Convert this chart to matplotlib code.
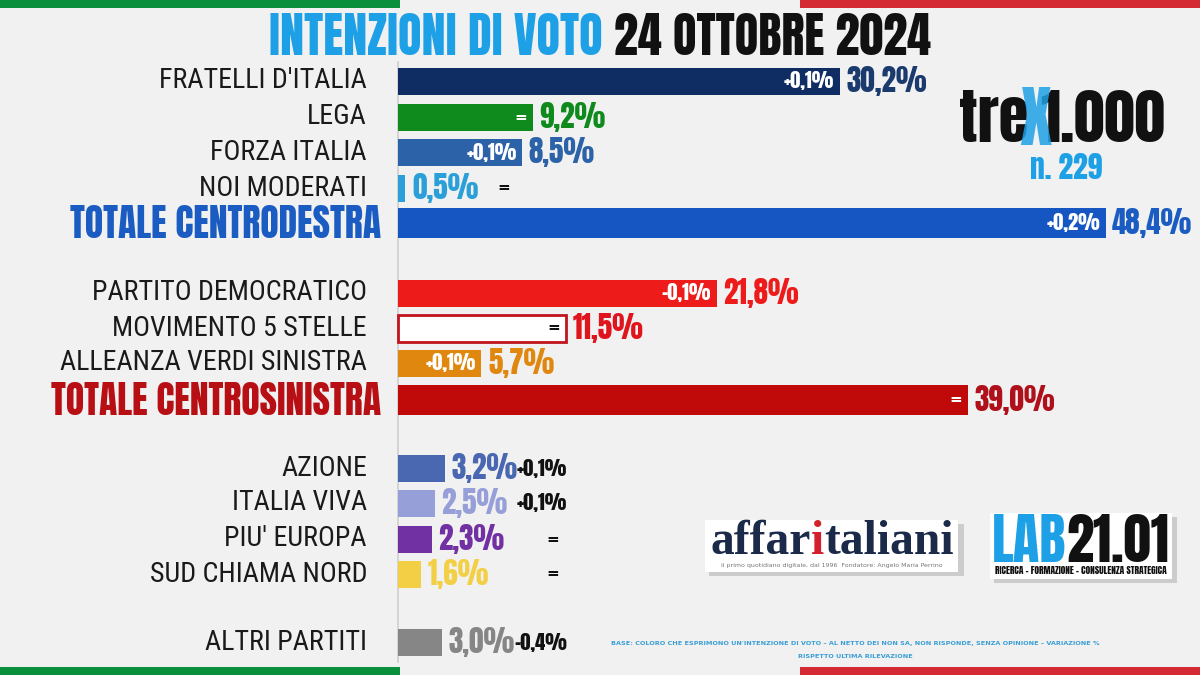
import matplotlib.pyplot as plt
from matplotlib.patches import Rectangle

HEAVY = ['Anton', 'Oswald', 'Bebas Neue', 'Roboto Condensed', 'IBM Plex Sans Condensed', 'DejaVu Sans']
NARROW = ['Roboto Condensed', 'IBM Plex Sans Condensed', 'Liberation Sans Narrow', 'DejaVu Sans']
plt.rcParams['font.family'] = NARROW

# data
parties = ["FRATELLI D'ITALIA", "LEGA", "FORZA ITALIA", "NOI MODERATI", "TOTALE CENTRODESTRA",
           "PARTITO DEMOCRATICO", "MOVIMENTO 5 STELLE", "ALLEANZA VERDI SINISTRA", "TOTALE CENTROSINISTRA",
           "AZIONE", "ITALIA VIVA", "PIU' EUROPA", "SUD CHIAMA NORD", "ALTRI PARTITI"]
values = [30.2, 9.2, 8.5, 0.5, 48.4, 21.8, 11.5, 5.7, 39.0, 3.2, 2.5, 2.3, 1.6, 3.0]
changes = ["+0,1%", "=", "+0,1%", "=", "+0,2%", "-0,1%", "=", "+0,1%", "=",
           "+0,1%", "+0,1%", "=", "=", "-0,4%"]
change_inside = [True, True, True, False, True, True, True, True, True,
                 False, False, False, False, False]
is_total = [False, False, False, False, True, False, False, False, True,
            False, False, False, False, False]

# style
bar_colors = ['#102d63', '#0f8a1c', '#2c62a8', '#2a9fd8', '#1656c2', '#ee1b1b', '#ffffff',
              '#e0870f', '#c00a0a', '#4a67b2', '#979fd8', '#7131a3', '#f3cf45', '#868686']
val_colors = ['#1b3a6e', '#0f8a1c', '#2c62a8', '#2a9fd8', '#1a5cc2', '#ee1b1b', '#e0141c',
              '#e0870f', '#b0101a', '#4a67b2', '#979fd8', '#7131a3', '#f3cf45', '#868686']
label_colors = ['#1a1a1a'] * 4 + ['#1a5cc2'] + ['#1a1a1a'] * 3 + ['#b80f14'] + ['#1a1a1a'] * 5
rows_y = [81, 117, 152, 188, 223, 293, 328, 363, 400, 468, 503, 539, 574, 642]
bg = '#f1f1f1'
light_blue = '#1ea0e6'

S = 14.62  # pixels per percentage point
X0 = 398   # pixel x of the zero line


def px(x):
    return (x - X0) / S


fig = plt.figure(figsize=(12, 6.75), dpi=100)
fig.patch.set_facecolor(bg)
ax = fig.add_axes([0, 0, 1, 1])
ax.set_xlim(px(0), px(1200))
ax.set_ylim(675, 0)
ax.axis('off')
renderer = fig.canvas.get_renderer()


def fit_size(s, width, **kw):
    # font size that makes s about `width` pixels wide
    t = ax.text(0, 0, s, fontsize=10, **kw)
    w = t.get_window_extent(renderer).width
    t.remove()
    return 10 * width / w


def chain_text(x, y, pieces, ha='left', **kw):
    # draw coloured pieces one after the other on a line
    arts = [ax.text(0, y, s, color=c, va='center', ha='left', **kw) for s, c in pieces]
    widths = [a.get_window_extent(renderer).width / S for a in arts]
    start = x - sum(widths) / 2 if ha == 'center' else x
    for a, w in zip(arts, widths):
        a.set_x(start)
        start += w
    return arts


# flag stripes
for yy in (0, 667):
    ax.add_patch(Rectangle((px(0), yy), 400 / S, 8, color='#0a8f3c', lw=0))
    ax.add_patch(Rectangle((px(800), yy), 400 / S, 8, color='#d42a34', lw=0))

# title
fs = fit_size('INTENZIONI DI VOTO 24 OTTOBRE 2024', 656, family=HEAVY)
chain_text(px(600), 37, [('INTENZIONI DI VOTO ', light_blue), ('24 OTTOBRE 2024', '#111111')],
           ha='center', fontsize=fs, family=HEAVY)

# zero line
ax.plot([0, 0], [62, 662], color='#cfcfcf', lw=1.2, zorder=1)

heights = [30 if t else 27 for t in is_total]
edges = ['#c0141c' if c == '#ffffff' else c for c in bar_colors]
ax.barh(rows_y, values, height=heights, color=bar_colors, edgecolor=edges,
        linewidth=[2 if c == '#ffffff' else 0 for c in bar_colors], zorder=2)

fs_label = fit_size(parties[0], 207)
fs_total = fit_size(parties[4], 311, family=HEAVY)
fs_val = fit_size('30,2%', 80, family=HEAVY)
fs_in = fit_size('+0,1%', 50, family=HEAVY)
EQ = dict(family='DejaVu Sans', fontweight='bold', fontsize=11)

for i, name in enumerate(parties):
    y = rows_y[i]
    v = values[i]
    if is_total[i]:
        ax.text(px(381), y + 1, name, ha='right', va='center', fontsize=fs_total,
                family=HEAVY, color=label_colors[i])
    else:
        ax.text(px(367), y, name, ha='right', va='center', fontsize=fs_label,
                color=label_colors[i])
    vt = ax.text(v + 0.45, y, f"{v:.1f}%".replace('.', ','), ha='left', va='center',
                 fontsize=fs_val, family=HEAVY, color=val_colors[i])
    ch = changes[i]
    style = EQ if ch == '=' else dict(family=HEAVY, fontsize=fs_in)
    if change_inside[i]:
        c = '#111111' if bar_colors[i] == '#ffffff' else 'white'
        ax.text(v - 0.4, y, ch, ha='right', va='center', color=c, **style)
    elif i == 3:
        end = vt.get_window_extent(renderer).x1
        ax.text(px(end) + 1.3, y, ch, ha='left', va='center', color='#111111', **style)
    elif ch == '=':
        ax.text(px(553), y, ch, ha='center', va='center', color='#111111', **style)
    else:
        ax.text(px(567), y, ch, ha='right', va='center', color='#111111', **style)

# tre x 1.000 logo
fs_logo = fit_size('1.000', 125, family=HEAVY)
ax.text(px(1029), 120, 'tre', ha='right', va='center', fontsize=fs_logo, family=HEAVY,
        color='#111111')
ax.text(px(1040), 120, '1.000', ha='left', va='center', fontsize=fs_logo, family=HEAVY,
        color='#111111')
ax.text(px(1035), 120, 'X', ha='center', va='center', fontsize=fs_logo * 1.1, family=HEAVY,
        color=light_blue, alpha=0.85)
ax.text(px(1066), 168, 'n. 229', ha='center', va='center',
        fontsize=fit_size('n. 229', 72, family=HEAVY), family=HEAVY, color=light_blue)

# affaritaliani logo
serif = ['Liberation Serif', 'DejaVu Serif']
ax.add_patch(Rectangle((px(709), 524), 255 / S, 52, color='#bdbdbd', lw=0, alpha=0.7))
ax.add_patch(Rectangle((px(705), 520), 253 / S, 52, color='white', lw=0))
chain_text(px(832), 542, [('affar', '#1b2a48'), ('i', '#d4202a'), ('taliani', '#1b2a48')],
           ha='center', fontsize=fit_size('affaritaliani', 245, fontweight='bold', family=serif),
           fontweight='bold', family=serif)
ax.text(px(832), 565, 'il primo quotidiano digitale, dal 1996  Fondatore: Angelo Maria Perrino',
        ha='center', va='center', fontsize=4.5, color='#777777', family='DejaVu Sans')

# LAB21.01 logo
ax.add_patch(Rectangle((px(994), 517), 183 / S, 66, color='#bdbdbd', lw=0, alpha=0.7))
ax.add_patch(Rectangle((px(990), 513), 182 / S, 66, color='white', lw=0))
chain_text(px(1081), 541, [('LAB', light_blue), ('21.01', '#111111')], ha='center',
           fontsize=fit_size('LAB21.01', 176, family=HEAVY), family=HEAVY)
ax.text(px(1081), 571, 'RICERCA - FORMAZIONE - CONSULENZA STRATEGICA', ha='center',
        va='center', fontsize=fit_size('RICERCA - FORMAZIONE - CONSULENZA STRATEGICA', 172, family=HEAVY),
        family=HEAVY, color='#111111')

# footnote
note1 = ("BASE: COLORO CHE ESPRIMONO UN'INTENZIONE DI VOTO \u2013 AL NETTO DEI NON SA, "
         "NON RISPONDE, SENZA OPINIONE \u2013 VARIAZIONE %")
fs_note = fit_size(note1, 486, fontweight='bold', family='DejaVu Sans')
ax.text(px(855), 644, note1, ha='center', va='center',
        fontsize=fs_note, fontweight='bold', color='#3a9fd6', family='DejaVu Sans')
ax.text(px(855), 656, 'RISPETTO ULTIMA RILEVAZIONE', ha='center', va='center',
        fontsize=fs_note, fontweight='bold', color='#3a9fd6', family='DejaVu Sans')

fig.savefig('out.png', dpi=100, facecolor=bg)
